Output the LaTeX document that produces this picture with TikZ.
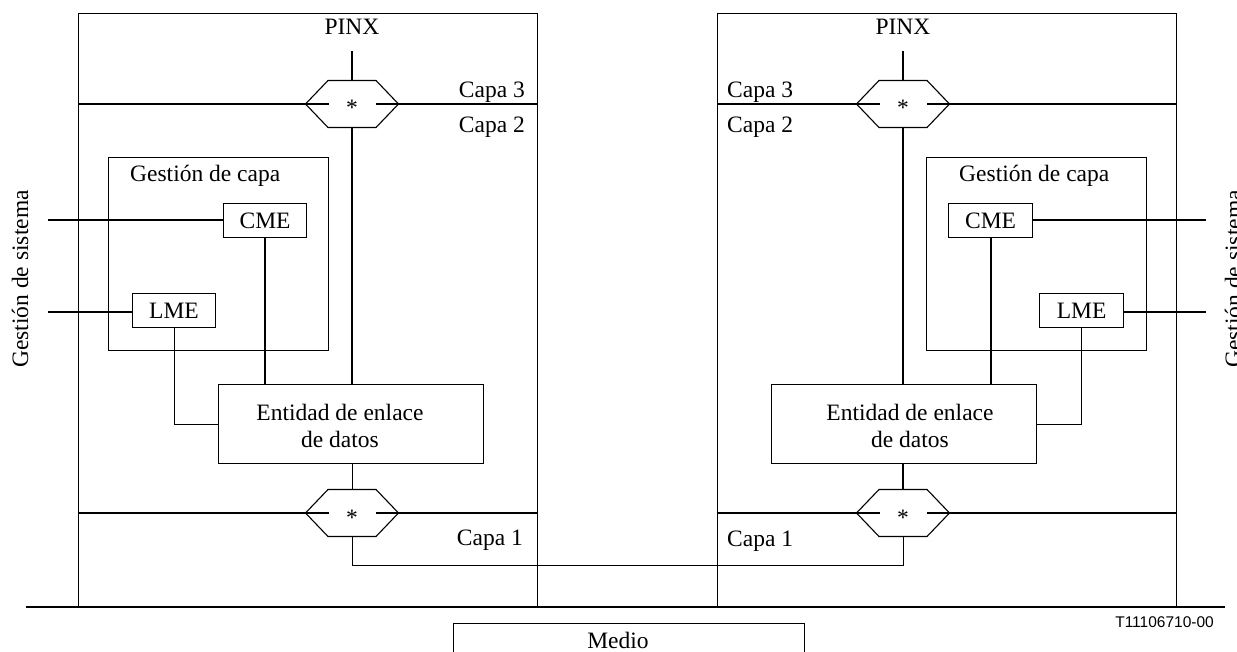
\documentclass[tikz,border=0pt]{standalone}
\usepackage{fontspec}
\setmainfont{Liberation Serif}
\newfontfamily\labsans{Liberation Sans}
\usetikzlibrary{calc}
\newcommand{\fs}{\fontsize{23.5pt}{27pt}\selectfont}
\newcommand{\hexagonat}[1]{%
  \draw[hexa] ($(#1)+(-46.5,0)$) -- ++(22.5,-23.5) -- ++(48,0) -- ++(22.5,23.5)
     -- ++(-22.5,23.5) -- ++(-48,0) -- cycle;
  \coordinate (#1t) at ($(#1)+(0,-23.5)$);
  \coordinate (#1b) at ($(#1)+(0,23.5)$);
  \node[gap] (#1g) at (#1) {};
  \node[txt,anchor=base] (#1s) at ($(#1)+(0,12)$) {*};
}
\begin{document}
\begin{tikzpicture}[x=1pt,y=-1pt,
  box/.style={draw,line width=1.1pt,inner sep=0pt,anchor=north west,font=\fs},
  lin/.style={line width=1pt},
  lmid/.style={line width=1.4pt},
  lthick/.style={line width=2pt},
  txt/.style={inner sep=0pt,font=\fs},
  gap/.style={fill=white,inner sep=0pt,minimum width=47pt,minimum height=12pt},
  hexa/.style={line width=1.1pt}
]
\useasboundingbox (0,0) rectangle (1237,652);

% PINX boxes
\node[box,minimum width=459pt,minimum height=594pt] (pxL) at (78,13) {};
\node[box,minimum width=459pt,minimum height=594pt] (pxR) at (717,13) {};

% hexagon centres
\coordinate (hL3) at (352,104);
\coordinate (hL1) at (352,513);
\coordinate (hR3) at (903,104);
\coordinate (hR1) at (903,513);

% layer lines
\draw[lthick] (pxL.west |- hL3) -- (pxL.east |- hL3);
\draw[lthick] (pxL.west |- hL1) -- (pxL.east |- hL1);
\draw[lthick] (pxR.west |- hR3) -- (pxR.east |- hR3);
\draw[lthick] (pxR.west |- hR1) -- (pxR.east |- hR1);

\hexagonat{hL3}
\hexagonat{hL1}
\hexagonat{hR3}
\hexagonat{hR1}

% texts PINX / Capa
\node[txt,anchor=base] (pinxL) at (352,35) {PINX};
\node[txt,anchor=base] (pinxR) at (903,35) {PINX};
\node[txt,anchor=base east] (c3L) at (525,98) {Capa 3};
\node[txt,anchor=base east] (c2L) at (525,133) {Capa 2};
\node[txt,anchor=base east] (c1L) at (523,545) {Capa 1};
\node[txt,anchor=base west] (c3R) at (727,98) {Capa 3};
\node[txt,anchor=base west] (c2R) at (727,133) {Capa 2};
\node[txt,anchor=base west] (c1R) at (727,546) {Capa 1};

% layer management boxes
\node[box,minimum width=220pt,minimum height=193pt] (gcL) at (108,157) {};
\node[box,minimum width=220pt,minimum height=193pt] (gcR) at (926,157) {};
\node[txt,anchor=base west] (gctL) at (130,182) {Gestión de capa};
\node[txt,anchor=base west] (gctR) at (959,182) {Gestión de capa};

\node[box,minimum width=83pt,minimum height=34pt] (cmeL) at (223,203) {CME};
\node[box,minimum width=83pt,minimum height=34pt] (lmeL) at (132,293) {LME};
\node[box,minimum width=84pt,minimum height=34pt] (cmeR) at (948,203) {CME};
\node[box,minimum width=84pt,minimum height=34pt] (lmeR) at (1039,293) {LME};

% data link entities
\node[box,minimum width=265pt,minimum height=79pt] (dlL) at (218,384) {};
\node[box,minimum width=265pt,minimum height=79pt] (dlR) at (771,384) {};
\node[txt,anchor=base] (dlLa) at (340,420) {Entidad de enlace};
\node[txt,anchor=base] (dlLb) at (340,447) {de datos};
\node[txt,anchor=base] (dlRa) at (910,420) {Entidad de enlace};
\node[txt,anchor=base] (dlRb) at (910,447) {de datos};

% system management
\node[txt,rotate=90,anchor=base] (sysL) at (28,279) {Gestión de sistema};
\node[txt,rotate=90,anchor=base] (sysR) at (1241,279) {Gestión de sistema};
\coordinate (sLc) at (48,220);
\coordinate (sLl) at (48,312);
\coordinate (sRc) at (1206,220);
\coordinate (sRl) at (1206,312);
\draw[lthick] (sLc) -- (sLc -| cmeL.west);
\draw[lthick] (sLl) -- (sLl -| lmeL.west);
\draw[lthick] (sRc) -- (sRc -| cmeR.east);
\draw[lthick] (sRl) -- (sRl -| lmeR.east);

% PINX verticals
\coordinate (pL) at (352,51);
\coordinate (pR) at (903,51);
\draw[lmid] (pL) -- (hL3t);
\draw[lthick] (pR) -- (hR3t);
\draw[lmid] (hL3b) -- (hL3b |- dlL.north);
\draw[lthick] (hR3b) -- (hR3b |- dlR.north);

% CME / LME to entity
\draw[lthick] (cmeL.south) -- (cmeL.south |- dlL.north);
\draw[lthick] (cmeR.south) -- (cmeR.south |- dlR.north);
\draw[lin] (lmeL.south) |- (dlL.west);
\draw[lin] (lmeR.south) |- (dlR.east);

% entity to layer 1
\draw[lin] (dlL.south -| hL1t) -- (hL1t);
\draw[lthick] (dlR.south -| hR1t) -- (hR1t);

% physical link
\coordinate (lk) at (352,565);
\draw[lin] (hL1b) -- (lk) -| (hR1b);

% medium line and box
\coordinate (bl0) at (26,607);
\coordinate (bl1) at (1225,607);
\draw[lthick] (bl0) -- (bl1);
\node[box,minimum width=351pt,minimum height=60pt] (medio) at (453,623) {};
\node[txt,anchor=base] (mediot) at (618,648) {Medio};
\node[inner sep=0pt,anchor=base east,font=\labsans\fontsize{15.5pt}{18pt}\selectfont] (ref) at (1214,627) {T11106710-00};
\end{tikzpicture}
\end{document}
